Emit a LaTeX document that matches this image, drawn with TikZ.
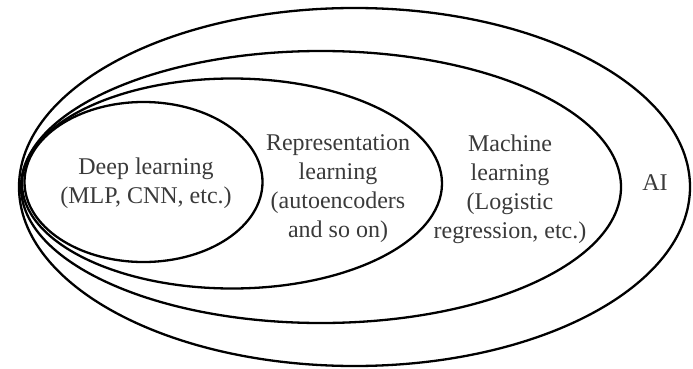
\documentclass[tikz,border=0pt]{standalone}
\usepackage{fontspec}
\setmainfont{Liberation Serif}
\usetikzlibrary{shapes.geometric}
\definecolor{txt}{HTML}{3A3A3A}
\begin{document}
\begin{tikzpicture}[x=1pt,y=-1pt,
  setring/.style={ellipse, draw=black, line width=2.3pt, inner sep=0pt},
  lbl/.style={text=txt, align=center, font=\fontsize{24}{29}\selectfont, inner sep=0pt}]
\useasboundingbox (0,0) rectangle (693,369);
\node[setring, minimum width=671pt, minimum height=358pt] (ai) at (354.5,187) {};
\node[setring, minimum width=600pt, minimum height=272pt] (ml) at (321,187) {};
\node[setring, minimum width=420pt, minimum height=210pt] (rl) at (232,183.5) {};
\node[setring, minimum width=238pt, minimum height=160pt] (dl) at (143.5,182) {};
\node[lbl] (dlt) at (146,183) {Deep learning\\(MLP, CNN, etc.)};
\node[lbl] (rlt) at (338,189) {Representation\\learning\\(autoencoders\\and so on)};
\node[lbl] (mlt) at (510,189) {Machine\\learning\\(Logistic\\regression, etc.)};
\node[lbl] (ait) at (655,183) {AI};
\end{tikzpicture}
\end{document}
